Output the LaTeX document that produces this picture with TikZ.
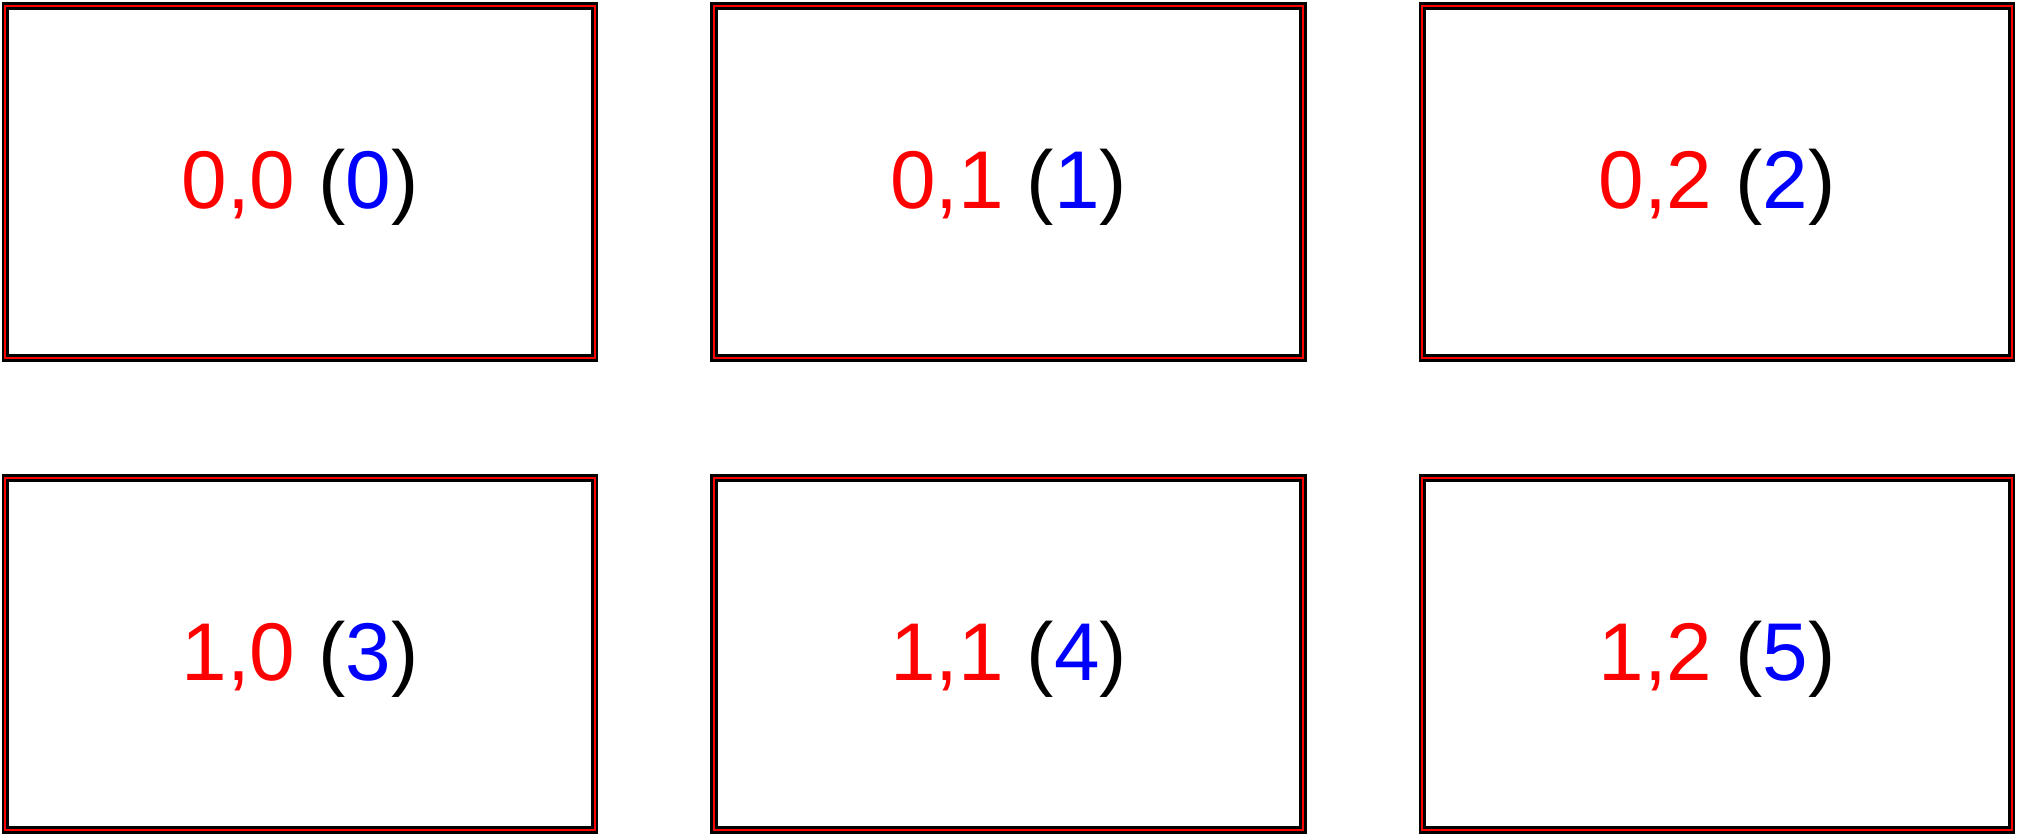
\documentclass[tikz,border=0pt]{standalone}
\usepackage{fontspec}
\setmainfont{Liberation Sans}

\begin{document}
\begin{tikzpicture}
[x=0.01cm,y=0.01cm,font=\fontsize{23.3}{27}\selectfont,
cell/.style={draw=black,line width=.75pt,double=red,double distance=.65pt,
  minimum width=5.89cm,minimum height=3.52cm,inner sep=0pt,outer sep=0pt,
  text height=15.2pt,text depth=0pt}]
%%%%%%%%%%

\def \colStep {708.5}
\def \rowStep {472}

\useasboundingbox (0,0) rectangle (2017,836);

\foreach \r in {0,1}
  \foreach \c in {0,1,2} {
    \pgfmathtruncatemacro{\idx}{3*\r+\c}
    \node[cell] (b\r\c) at ({300+\c*\colStep},{654-\r*\rowStep})
      {\textcolor{red}{\r,\c} (\textcolor{blue}{\idx})};
  }
\end{tikzpicture}
\end{document}
